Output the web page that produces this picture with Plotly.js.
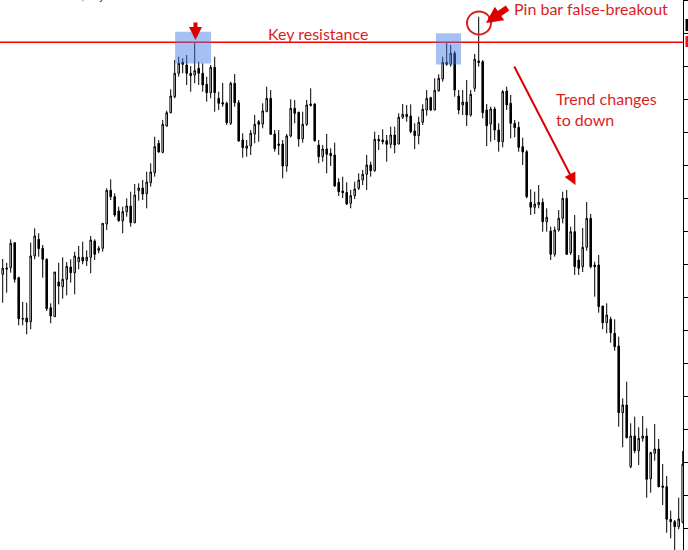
<!DOCTYPE html>
<html>
<head>
<meta charset="utf-8">
<script src="https://cdn.plot.ly/plotly-3.0.1.min.js"></script>
<style>html,body{margin:0;padding:0;background:#fff;}#chart{width:688px;height:550px;}</style>
</head>
<body>
<div id="chart"></div>
<script>
// Daily candles (price units)
const open = [1325.7,1332,1332.3,1357.3,1322.3,1281.5,1282,1278.3,1344,1360.7,1351.7,1340.7,1292.3,1283.3,1318,1313.3,1320.7,1333,1327.3,1338.3,
1342.7,1339.3,1342.7,1359,1349.7,1351.7,1376,1409.7,1403.3,1389,1379.3,1388.3,1394,1377.3,1409.3,1412,1406.3,1417.3,1427.3,1456.7,
1447.7,1474,1487.3,1503.3,1526.7,1537.7,1535,1526.7,1525,1531.7,1526.7,1515.7,1507.3,1532.7,1501.7,1497.3,1496.7,1476.7,1516.7,1497.3,
1460,1451.7,1454,1466,1478.3,1476,1488.3,1501.7,1466,1456,1456,1434,1464,1491.7,1487.7,1461.3,1475.7,1496,1496,1455,
1443.3,1451,1446.7,1445,1417.7,1409,1407.5,1396.7,1404.3,1411.7,1420,1425.7,1435,1429.3,1459,1460,1459.3,1455.7,1465,1456,
1482.7,1485.7,1484,1469,1464.3,1477.7,1490,1502.3,1490,1509.3,1521,1535.7,1535.7,1546.7,1504,1495,1498,1485,1511.7,1539,
1538.3,1490,1476,1491,1470,1458.3,1509,1496.7,1476.7,1472.7,1453.3,1448.3,1397.7,1392.7,1395.3,1397.7,1378.3,1369,1345.7,1370,
1381.7,1401.7,1347.3,1368.3,1340,1333.3,1352.7,1381.7,1335,1335,1294,1277.3,1280.7,1266.7,1254,1187.3,1195,1133.3,1164,1149.3,
1161.7,1164,1121.3,1146.7,1151,1114,1113.3,1080.7,1078.3,1073.3,1077.7];
const high = [1341,1337.3,1360.7,1357.3,1323.3,1298,1297.3,1357.3,1371.7,1366.7,1355,1341.7,1296.7,1328,1337.3,1342.7,1338,1340.7,1348.3,1354,
1358.3,1349.7,1364,1360.7,1354,1376.7,1411.7,1420.7,1406.7,1393.3,1393.3,1401.7,1408.3,1416,1416.7,1420,1428.3,1436.7,1463.3,1460,
1480,1489.3,1510.7,1540,1543.3,1541.7,1545,1534,1558,1538.3,1536.7,1523.3,1535,1543.3,1508.3,1517,1498.3,1518.3,1526,1500,
1466.7,1460,1470,1485,1480,1496.7,1513.3,1510,1470,1470,1460,1466,1500.7,1500,1488.3,1488.3,1500,1511.7,1496.7,1460,
1455,1466,1451.7,1457.3,1421.7,1423.3,1417.7,1410,1418.3,1426.7,1430,1445,1438.3,1468.3,1465,1470.7,1465,1473.3,1473.3,1486.7,
1496,1495,1495.7,1476.7,1483.3,1495.7,1510,1503.3,1521.7,1525.7,1543.3,1557.7,1555,1549,1510,1510,1520,1510,1546,1583.3,
1540,1496,1493.3,1493.3,1476.7,1510,1513.3,1505,1480,1478.3,1462.3,1450,1410.7,1408.3,1415,1401.7,1391.7,1373.3,1373.3,1390,
1408.3,1410,1373.3,1385,1345,1372,1398,1386,1338.3,1345,1294,1296.7,1283.3,1280.7,1263.3,1201.7,1218.3,1176.7,1183.3,1172.7,
1184,1171.7,1148.3,1176,1161,1136,1124,1089.3,1080,1102.3,1149];
const low = [1297.3,1307.3,1327.3,1317.3,1274.7,1274.7,1265.7,1270.7,1340.7,1343.3,1322.3,1289,1276.7,1283,1295.7,1301.3,1304.7,1317.3,1305.7,1330.7,
1335.7,1334,1326.7,1340,1346.7,1348.3,1370,1400,1383.3,1378.3,1366.7,1383.3,1373.3,1376.7,1399.3,1400,1391.7,1413.3,1423.3,1447.3,
1446.7,1473.3,1486.7,1501.7,1523.3,1526.7,1515,1508.3,1516.7,1515,1508.3,1498.3,1501.7,1488.3,1490,1493.3,1475,1475,1493.3,1458.3,
1442.3,1443.3,1445,1456.7,1458.3,1471.7,1488.3,1465,1448.3,1445,1421.7,1428.3,1462.7,1476.7,1453.3,1457.3,1474,1493.3,1458.3,1436.7,
1438.3,1426.7,1434,1413.3,1404,1402,1395,1391.7,1401,1410,1415,1410,1423.3,1428.3,1450,1455.7,1438.3,1451.7,1446.7,1455.7,
1481,1478.3,1466.7,1451,1455.7,1475,1484.3,1489,1490,1508.3,1518.3,1534.3,1533.3,1503.3,1485.7,1485,1474,1483.3,1508.3,1533.3,
1481.7,1454,1458.3,1460,1448.3,1452.7,1490,1461.7,1462.7,1448.3,1435,1401.7,1385,1386,1391.7,1368.3,1368.3,1340,1343.3,1368.3,
1376.7,1345,1345,1325,1325,1328,1349.3,1331.7,1303.3,1287.3,1270.7,1266.7,1257.3,1249.3,1173.3,1152.7,1161.7,1131.7,1146.7,1135,
1158.3,1102.3,1107.3,1139.3,1112.7,1095,1067.3,1061.7,1050,1070.7,1076.7];
const close = [1331.7,1331,1356.7,1320.7,1281.3,1281,1278,1344,1364,1351.3,1340.7,1291.3,1284,1328,1314,1320.7,1333.7,1327.3,1344,1342.7,
1339,1342.7,1360,1345.7,1351.7,1376.7,1409.7,1403.3,1385,1379.3,1388.3,1394,1377.3,1405,1412,1406,1418,1428,1453.3,1448,
1475.7,1487.3,1504,1526.7,1536.7,1535.7,1526.7,1524.3,1529.3,1526.7,1515,1507.3,1532.7,1507.3,1496.7,1496,1477.3,1516.7,1497.3,1459,
1452.3,1454,1466.7,1475.7,1475.7,1489,1501.7,1465.7,1451.3,1454.7,1434,1464,1491.7,1486.7,1461,1475.7,1495,1494.7,1459.3,1443.3,
1451,1445.7,1444.3,1414,1408.3,1407.3,1396,1404.3,1411,1420,1425.7,1435,1429.3,1460.7,1460.7,1458.3,1455.7,1465,1455,1482.7,
1485.7,1483.3,1468.3,1464.3,1477.7,1490.7,1501.7,1490,1509.7,1521.7,1537.7,1537.7,1546.7,1510,1490,1498,1485,1505.7,1540.7,1537.5,
1487.3,1474.3,1491,1470,1458.3,1508.3,1495,1476.7,1472.3,1452.7,1448,1403.3,1392.7,1396,1397.7,1378.3,1382.7,1345.7,1370,1381.7,
1401.7,1345.7,1368.3,1333.3,1331.7,1352.7,1381.7,1333.3,1333.3,1293.3,1277.3,1285,1267.3,1253.3,1187.3,1195,1162.3,1164,1149.3,1161.7,
1164,1120.7,1147.3,1151,1113.3,1112.7,1080.7,1078.3,1073.3,1081,1135.7];
const resistance = 1557.7;
const highlightZones = [[43.1, 52.1, 1536.5, 1568.3], [108.3, 114.6, 1535.5, 1566.7]];
const labels = {
  resistance: "Key resistance",
  pinbar: "Pin bar false-breakout",
  trend1: "Trend changes",
  trend2: "to down",
  header: "XAUUSD,Daily  1336.20 1338.40 1333.10 1335.70"
};

const idx = open.map((_, i) => i);
const PW = 683, PH = 550;
const pxX = x => x / PW;
const pxY = y => 1 - y / PH;
const RED = '#d81e1e';

const trace = {
  type: 'candlestick',
  x: idx, open: open, high: high, low: low, close: close,
  increasing: {fillcolor: '#ffffff', line: {color: '#000000', width: 1}},
  decreasing: {fillcolor: '#000000', line: {color: '#000000', width: 1}},
  whiskerwidth: 0,
  hoverinfo: 'skip'
};

const shapes = [
  {type: 'line', xref: 'paper', yref: 'y', x0: 0, x1: 1, y0: resistance, y1: resistance,
   line: {color: '#ff0000', width: 1.5}, layer: 'above'}
];
highlightZones.forEach(z => shapes.push({
  type: 'rect', xref: 'x', yref: 'y', x0: z[0], x1: z[1], y0: z[2], y1: z[3],
  fillcolor: 'rgba(64,122,225,0.47)', line: {width: 0}, layer: 'above'
}));
shapes.push({type: 'circle', xref: 'paper', yref: 'paper',
  x0: pxX(467), x1: pxX(491), y0: pxY(34.5), y1: pxY(11.5),
  line: {color: RED, width: 2}, layer: 'above'});
shapes.push({type: 'rect', xref: 'paper', yref: 'paper',
  x0: pxX(685.5), x1: pxX(690), y0: pxY(31), y1: pxY(19), fillcolor: '#000', line: {width: 0}});
shapes.push({type: 'rect', xref: 'paper', yref: 'paper',
  x0: pxX(685.5), x1: pxX(690), y0: pxY(47), y1: pxY(36), fillcolor: '#ee1111', line: {width: 0}});

const font = {family: 'Lato, "Liberation Sans", sans-serif', size: 16, color: RED};
const annotations = [
  {xref: 'paper', yref: 'paper', x: pxX(317.5), y: pxY(34), text: labels.resistance, showarrow: false,
   xanchor: 'center', yanchor: 'middle', font: font},
  {xref: 'paper', yref: 'paper', x: pxX(512), y: pxY(9), text: labels.pinbar, showarrow: false,
   xanchor: 'left', yanchor: 'middle', font: font},
  {xref: 'paper', yref: 'paper', x: pxX(554), y: pxY(99), text: labels.trend1, showarrow: false,
   xanchor: 'left', yanchor: 'middle', font: font},
  {xref: 'paper', yref: 'paper', x: pxX(554), y: pxY(120), text: labels.trend2, showarrow: false,
   xanchor: 'left', yanchor: 'middle', font: font},
  {xref: 'paper', yref: 'paper', x: pxX(42), y: pxY(-3), text: labels.header, showarrow: false,
   xanchor: 'left', yanchor: 'middle', font: {family: 'Liberation Sans, sans-serif', size: 9, color: '#000'}},
  // arrows
  {xref: 'paper', yref: 'paper', x: pxX(195.5), y: pxY(40), ax: 0, ay: -19, text: '', showarrow: true,
   arrowhead: 2, arrowwidth: 4, arrowsize: 0.65, arrowcolor: '#dd0000'},
  {xref: 'paper', yref: 'paper', x: pxX(486), y: pxY(23), ax: 23, ay: -16, text: '', showarrow: true,
   arrowhead: 2, arrowwidth: 6, arrowsize: 0.55, arrowcolor: '#dd0000'},
  {xref: 'paper', yref: 'paper', x: pxX(575.5), y: pxY(185), ax: -62, ay: -120, text: '', showarrow: true,
   arrowhead: 2, arrowwidth: 2, arrowsize: 1.2, arrowcolor: '#dd0000'}
];

const layout = {
  width: 688, height: 550,
  margin: {l: 0, r: 5, t: 0, b: 0, pad: 0},
  paper_bgcolor: '#ffffff', plot_bgcolor: '#ffffff',
  showlegend: false,
  boxgap: 0.45,
  xaxis: {range: [-0.675, 170.075], visible: false, rangeslider: {visible: false}, fixedrange: true},
  yaxis: {range: [1050, 1600], side: 'right', showline: true, linecolor: '#000', linewidth: 1,
          ticks: 'outside', ticklen: 4, tickcolor: '#000', tick0: 1566.7, dtick: 33,
          showticklabels: false, showgrid: false, zeroline: false, fixedrange: true},
  shapes: shapes,
  annotations: annotations
};

Plotly.newPlot('chart', [trace], layout, {displayModeBar: false, staticPlot: true});
</script>
</body>
</html>
